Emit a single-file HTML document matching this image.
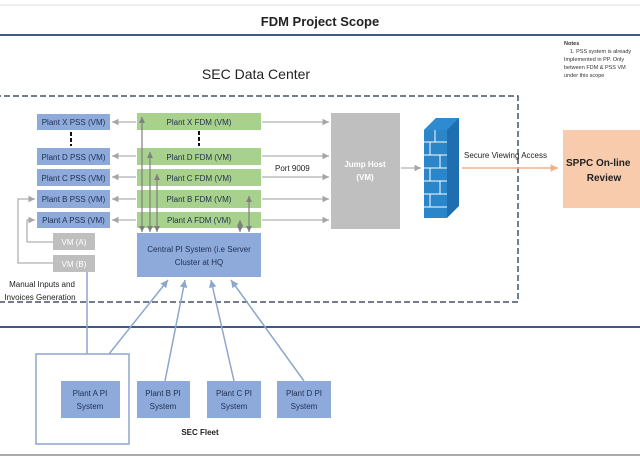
<!DOCTYPE html>
<html><head><style>
body{margin:0;background:#fff;}
svg{display:block;font-family:"Liberation Sans",sans-serif;}
</style></head><body>
<svg width="640" height="468" viewBox="0 0 640 468" xmlns="http://www.w3.org/2000/svg">
<defs>
<marker id="ag" markerWidth="6" markerHeight="6" refX="5" refY="3" orient="auto"><path d="M0,0.5 L5,3 L0,5.5z" fill="#a6a6a6"/></marker>
<marker id="ad" markerWidth="6" markerHeight="6" refX="5" refY="3" orient="auto-start-reverse"><path d="M0,0.5 L5,3 L0,5.5z" fill="#7f7f7f"/></marker>
<marker id="ab" markerWidth="6" markerHeight="6" refX="5" refY="3" orient="auto"><path d="M0,0.5 L5,3 L0,5.5z" fill="#8ea6cc"/></marker>
<marker id="ao" markerWidth="6" markerHeight="6" refX="5" refY="3" orient="auto"><path d="M0,0.5 L5,3 L0,5.5z" fill="#f4b183"/></marker>
</defs>
<line x1="0" y1="5" x2="640" y2="5" stroke="#ddd"/>
<text x="320" y="26" font-size="13" font-weight="bold" text-anchor="middle" fill="#222">FDM Project Scope</text>
<line x1="0" y1="35" x2="640" y2="35" stroke="#3f5a8a" stroke-width="2"/>
<g font-size="5.5" fill="#333"><text x="564" y="45" font-weight="bold">Notes</text>
<text x="570" y="53">1. PSS system is already</text><text x="564" y="61">Implemented in PP. Only</text><text x="564" y="69">between FDM &amp; PSS VM</text><text x="564" y="77">under this scope</text></g>
<text x="256" y="79" font-size="14" text-anchor="middle" fill="#222">SEC Data Center</text>
<path d="M-5,96 H518 V302 H-5" fill="none" stroke="#44546a" stroke-width="1.5" stroke-dasharray="6,3"/>
<!-- PSS boxes -->
<g fill="#8eaadb">
<rect x="37" y="114" width="73" height="16"/><rect x="37" y="148" width="73" height="17"/><rect x="37" y="169" width="73" height="17"/><rect x="37" y="190" width="73" height="18"/><rect x="37" y="212" width="73" height="16"/></g>
<g fill="#a9d18e">
<rect x="137" y="113" width="124" height="17"/><rect x="137" y="148" width="124" height="17"/><rect x="137" y="169" width="124" height="17"/><rect x="137" y="190" width="124" height="18"/><rect x="137" y="212" width="124" height="16"/></g>
<g font-size="8" fill="#1f2f50" text-anchor="middle">
<text x="73.5" y="125">Plant X PSS (VM)</text><text x="73.5" y="160">Plant D PSS (VM)</text><text x="73.5" y="181">Plant C PSS (VM)</text><text x="73.5" y="202">Plant B PSS (VM)</text><text x="73.5" y="223">Plant A PSS (VM)</text>
<text x="199" y="125">Plant X FDM (VM)</text><text x="199" y="160">Plant D FDM (VM)</text><text x="199" y="181">Plant C FDM (VM)</text><text x="199" y="202">Plant B FDM (VM)</text><text x="199" y="223">Plant A FDM (VM)</text></g>
<g stroke="#111" stroke-width="2" stroke-dasharray="4,2"><line x1="71" y1="132" x2="71" y2="146"/><line x1="199" y1="131" x2="199" y2="146"/></g>
<g stroke="#b0b0b0" stroke-width="1.3" marker-end="url(#ag)">
<line x1="136" y1="122" x2="112" y2="122"/><line x1="136" y1="156" x2="112" y2="156"/><line x1="136" y1="177" x2="112" y2="177"/><line x1="136" y1="199" x2="112" y2="199"/><line x1="136" y1="220" x2="112" y2="220"/>
<line x1="262" y1="122" x2="329" y2="122"/><line x1="262" y1="156" x2="329" y2="156"/><line x1="262" y1="177" x2="329" y2="177"/><line x1="262" y1="199" x2="329" y2="199"/><line x1="262" y1="220" x2="329" y2="220"/>
<line x1="401" y1="168" x2="421" y2="168"/>
<polyline points="53,242 27,242 27,220 35,220" fill="none"/><polyline points="53,263 18,263 18,199 35,199" fill="none"/>
</g>
<text x="275" y="171" font-size="8" fill="#222">Port 9009</text>
<rect x="137" y="233" width="124" height="44" fill="#8eaadb"/>
<text x="199" y="252" font-size="8" text-anchor="middle" fill="#1f2f50">Central PI System (i.e Server</text>
<text x="199" y="265" font-size="8" text-anchor="middle" fill="#1f2f50">Cluster at HQ</text>
<g stroke="#7f7f7f" stroke-width="1.2" marker-start="url(#ad)" marker-end="url(#ad)">
<line x1="142" y1="232" x2="142" y2="117"/><line x1="150" y1="232" x2="150" y2="152"/><line x1="157" y1="232" x2="157" y2="174"/><line x1="240" y1="232" x2="240" y2="220"/><line x1="249" y1="232" x2="249" y2="196"/></g>
<rect x="53" y="233" width="42" height="17" fill="#bfbfbf"/><rect x="53" y="255" width="42" height="17" fill="#bfbfbf"/>
<text x="74" y="245" font-size="8" text-anchor="middle" fill="#fff">VM (A)</text><text x="74" y="267" font-size="8" text-anchor="middle" fill="#fff">VM (B)</text>
<text x="42" y="287" font-size="8" text-anchor="middle" fill="#222">Manual Inputs and</text>
<text x="40" y="300" font-size="8" text-anchor="middle" fill="#222">Invoices Generation</text>
<rect x="331" y="113" width="69" height="116" fill="#bfbfbf"/>
<text x="365" y="167" font-size="8" font-weight="bold" text-anchor="middle" fill="#fff">Jump Host</text><text x="365" y="180" font-size="8" font-weight="bold" text-anchor="middle" fill="#fff">(VM)</text>
<!-- firewall -->
<polygon points="424,130 436,118 459,118 459,206 447,218 424,218" fill="#1f6fb0"/>
<polygon points="424,130 436,118 459,118 447,130" fill="#2e8bd1"/>
<rect x="424" y="130" width="23" height="88" fill="#2a86c9"/>
<g stroke="#fff" stroke-width="1">
<line x1="424" y1="142" x2="447" y2="142"/><line x1="424" y1="155" x2="447" y2="155"/><line x1="424" y1="168" x2="447" y2="168"/><line x1="424" y1="181" x2="447" y2="181"/><line x1="424" y1="194" x2="447" y2="194"/><line x1="424" y1="207" x2="447" y2="207"/>
<line x1="435" y1="130" x2="435" y2="142"/><line x1="430" y1="142" x2="430" y2="155"/><line x1="440" y1="155" x2="440" y2="168"/><line x1="430" y1="168" x2="430" y2="181"/><line x1="440" y1="181" x2="440" y2="194"/><line x1="430" y1="194" x2="430" y2="207"/></g>
<text x="464" y="158" font-size="8" fill="#222">Secure Viewing Access</text>
<line x1="462" y1="168" x2="558" y2="168" stroke="#f4b183" stroke-width="1.5" marker-end="url(#ao)"/>
<rect x="563" y="130" width="80" height="78" fill="#f8cbad"/>
<text x="566" y="166" font-size="10" font-weight="bold" fill="#222">SPPC On-line</text>
<text x="604" y="181" font-size="10" font-weight="bold" text-anchor="middle" fill="#222">Review</text>
<line x1="0" y1="327" x2="640" y2="327" stroke="#3f5a8a" stroke-width="2"/>
<!-- bottom -->
<rect x="36" y="354" width="93" height="90" fill="none" stroke="#8ea6cc" stroke-width="1.5"/>
<line x1="87" y1="272" x2="87" y2="354" stroke="#8ea6cc" stroke-width="1.5"/>
<g fill="#8eaadb"><rect x="61" y="381" width="59" height="37"/><rect x="137" y="381" width="53" height="37"/><rect x="207" y="381" width="54" height="37"/><rect x="277" y="381" width="54" height="37"/></g>
<g font-size="8" fill="#1f2f50" text-anchor="middle">
<text x="90" y="396">Plant A PI</text><text x="90" y="409">System</text>
<text x="163" y="396">Plant B PI</text><text x="163" y="409">System</text>
<text x="234" y="396">Plant C PI</text><text x="234" y="409">System</text>
<text x="304" y="396">Plant D PI</text><text x="304" y="409">System</text></g>
<text x="200" y="435" font-size="8" font-weight="bold" text-anchor="middle" fill="#222">SEC Fleet</text>
<g stroke="#8ea6cc" stroke-width="1.5" marker-end="url(#ab)">
<line x1="109" y1="354" x2="168" y2="280"/><line x1="165" y1="381" x2="185" y2="280"/><line x1="234" y1="381" x2="211" y2="280"/><line x1="304" y1="381" x2="231" y2="280"/></g>
<line x1="0" y1="455" x2="640" y2="455" stroke="#aaa" stroke-width="2"/>
</svg>
</body></html>
